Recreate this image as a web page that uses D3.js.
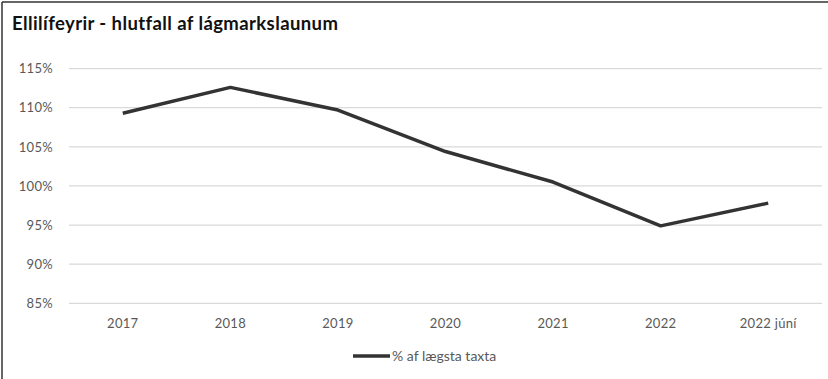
<html>
<head>
<meta charset="utf-8">
<script src="https://d3js.org/d3.v7.min.js"></script>
<style>
  body { margin: 0; background: #fff; }
  text { font-family: Lato, "Open Sans", sans-serif; }
  .tick text { fill: #595959; font-size: 13px; letter-spacing: 0.3px; }
  .grid line { stroke: #d9d9d9; stroke-width: 1.3px; }
</style>
</head>
<body>
<script>
var categories = ["2017", "2018", "2019", "2020", "2021", "2022", "2022 júní"];
var values = [109.3, 112.6, 109.7, 104.4, 100.5, 94.9, 97.8];
var yTicks = [85, 90, 95, 100, 105, 110, 115];
var seriesName = "% af lægsta taxta";
var title = "Ellilífeyrir - hlutfall af lágmarkslaunum";

var width = 828, height = 379;
var margin = {top: 68.6, right: 6, bottom: 75.7, left: 69};

var svg = d3.select("body").append("svg")
    .attr("width", width)
    .attr("height", height);

// frame (only top and left edge visible in the original)
svg.append("line").attr("x1", 2).attr("y1", 2).attr("x2", width).attr("y2", 2)
    .attr("stroke", "#333").attr("stroke-width", 1.5);
svg.append("line").attr("x1", 2).attr("y1", 2).attr("x2", 2).attr("y2", height)
    .attr("stroke", "#333").attr("stroke-width", 1.5);

svg.append("text")
    .attr("x", 12)
    .attr("y", 30)
    .attr("font-weight", "bold")
    .attr("font-size", "18.5px")
    .attr("letter-spacing", "0.4px")
    .attr("fill", "#111")
    .text(title);

var x = d3.scaleBand()
    .domain(categories)
    .range([margin.left, width - margin.right]);

var y = d3.scaleLinear()
    .domain([85, 115])
    .range([height - margin.bottom, margin.top]);

// gridlines
svg.append("g")
    .attr("class", "grid")
    .selectAll("line")
    .data(yTicks)
    .enter().append("line")
    .attr("x1", margin.left)
    .attr("x2", width - margin.right)
    .attr("y1", function(d) { return y(d); })
    .attr("y2", function(d) { return y(d); });

var yAxis = svg.append("g")
    .attr("transform", "translate(" + (margin.left - 13) + ",0)")
    .call(d3.axisLeft(y).tickValues(yTicks).tickSize(0).tickFormat(function(d) { return d + "%"; }));
yAxis.select(".domain").remove();

var xAxis = svg.append("g")
    .attr("transform", "translate(0," + (height - margin.bottom + 12) + ")")
    .call(d3.axisBottom(x).tickSize(0));
xAxis.select(".domain").remove();

var line = d3.line()
    .x(function(d, i) { return x(categories[i]) + x.bandwidth() / 2; })
    .y(function(d) { return y(d); });

svg.append("path")
    .datum(values)
    .attr("fill", "none")
    .attr("stroke", "#333")
    .attr("stroke-width", 3.5)
    .attr("stroke-linejoin", "round")
    .attr("d", line);

// legend
var legend = svg.append("g").attr("transform", "translate(353,356)");
legend.append("line")
    .attr("x1", 0).attr("x2", 37)
    .attr("stroke", "#333").attr("stroke-width", 3.5);
legend.append("text")
    .attr("x", 39)
    .attr("y", 5)
    .attr("font-size", "14px")
    .attr("fill", "#595959")
    .text(seriesName);
</script>
</body>
</html>
